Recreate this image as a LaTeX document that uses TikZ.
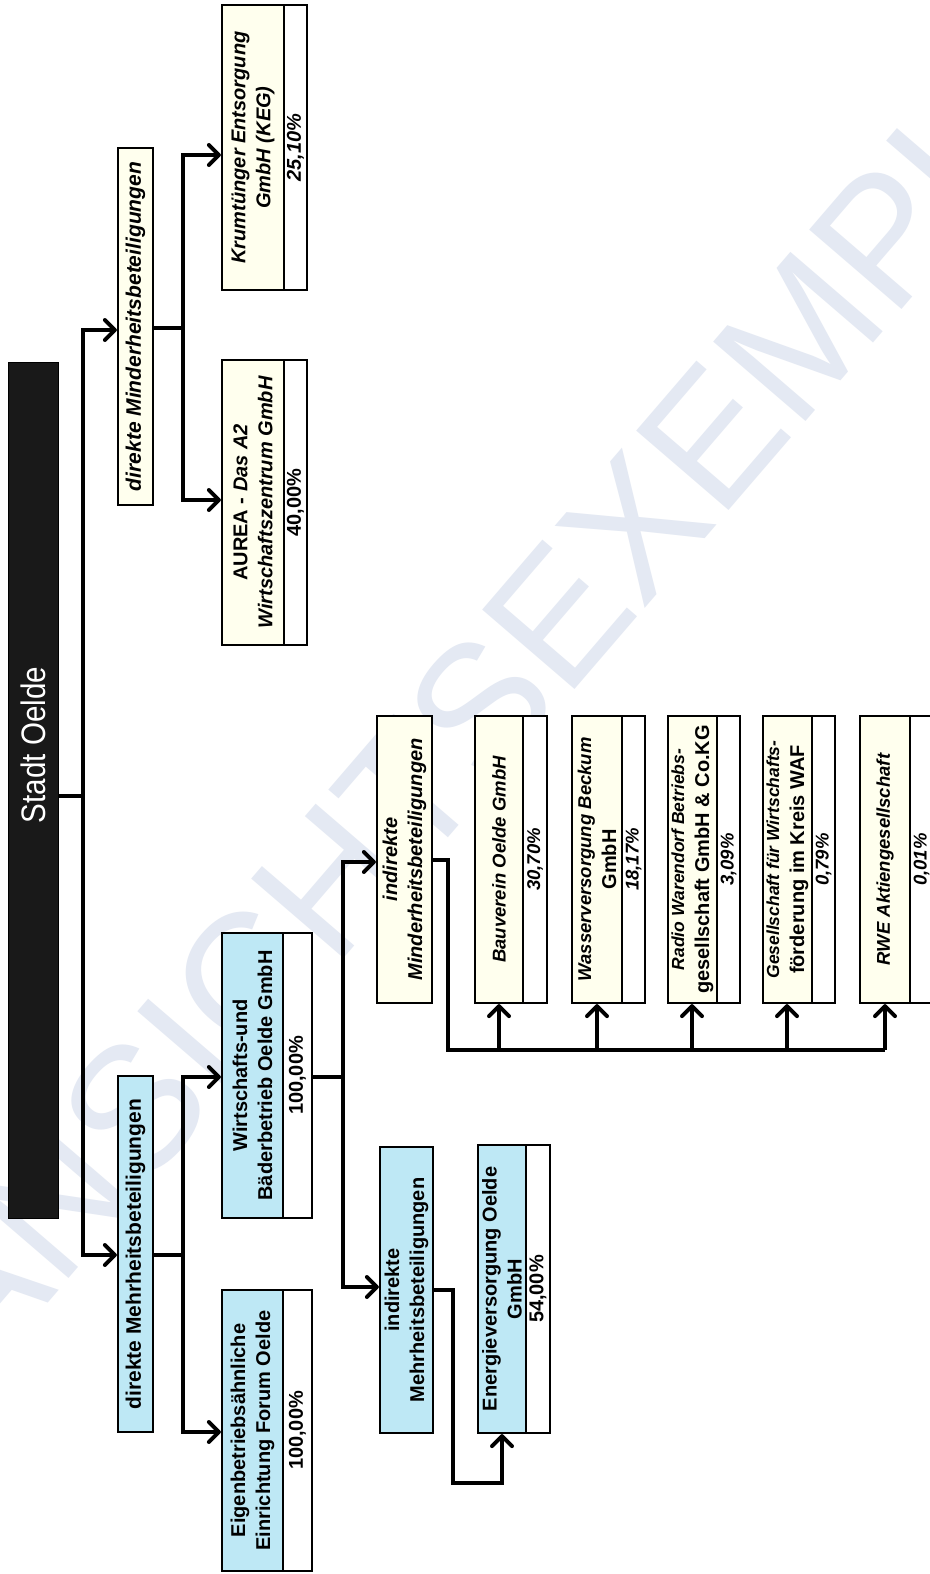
\documentclass[tikz,border=0pt]{standalone}
\usepackage{fontspec}
\setmainfont{Liberation Sans}
\usetikzlibrary{arrows.meta,fit}
\definecolor{boxblue}{RGB}{190,232,245}
\definecolor{cream}{RGB}{255,255,238}
\definecolor{wmark}{RGB}{228,233,243}
\newcommand{\orgbox}[9]{%
  \fill[#7] (#2,#3) rectangle (#6,#5);
  \fill[white] (#6,#3) rectangle (#4,#5);
  \node[boxframe, fit={(#2,#3)(#4,#5)}] (#1) {};
  \draw[boxline] (#6,#3) -- (#6,#5);
  \node[boxtext] (#1-t) at ({(#2+#6)/2},{(#3+#5)/2}) {#8};
  \node[boxtext] (#1-p) at ({(#6+#4)/2},{(#3+#5)/2}) {#9};
}
\newcommand{\smallit}{\bfseries\itshape\fontsize{18.5}{21}\selectfont}
\newcommand{\tinyit}{\bfseries\itshape\fontsize{17.5}{20}\selectfont}
\begin{document}
\begin{tikzpicture}[x=1pt,y=-1pt,
  conn/.style={line width=4.2pt},
  arr/.style={conn,-{Straight Barb[length=10pt,width=20pt,line width=4pt,round]}},
  boxframe/.style={draw, line width=2.2pt, inner sep=0pt},
  boxline/.style={line width=2.2pt},
  boxtext/.style={rotate=90, align=center, inner sep=0pt, font=\bfseries\fontsize{20}{25}\selectfont},
  cattext/.style={boxtext, font=\bfseries\fontsize{21}{25}\selectfont}]
\useasboundingbox (0,0) rectangle (929,1574);
\fill[white] (0,0) rectangle (929,1574);
% watermark
\node[rotate=49.3, text=wmark, inner sep=0pt, font=\fontsize{177}{177}\selectfont] (wm) at (542,635) {ANSICHTSEXEMPLAR};

% root
\node[fill=black!90, draw=black, inner sep=0pt, fit={(8,362)(58,1218)}] (stadt) {};
\node[rotate=90, text=white, inner sep=0pt] (stadt-t) at (33,745) {\scalebox{0.87}[1]{\fontsize{34}{40}\selectfont Stadt Oelde}};

% category boxes
\node[boxframe, fill=cream, fit={(118,148)(153,505)}] (dmin) {};
\node[cattext] (dmin-t) at (dmin.center) {\itshape direkte Minderheitsbeteiligungen};
\node[boxframe, fill=boxblue, fit={(118,1076)(153,1432)}] (dmehr) {};
\node[cattext] (dmehr-t) at (dmehr.center) {direkte Mehrheitsbeteiligungen};
\node[boxframe, fill=cream, fit={(377,716)(432,1003)}] (imin) {};
\node[boxtext] (imin-t) at (imin.center) {\itshape indirekte\\ \itshape Minderheitsbeteiligungen};
\node[boxframe, fill=boxblue, fit={(380,1147)(433,1433)}] (imehr) {};
\node[boxtext] (imehr-t) at (imehr.center) {indirekte\\Mehrheitsbeteiligungen};

% company boxes
\orgbox{krum}{222}{5}{307}{290}{284}{cream}{\itshape Krumtünger Entsorgung\\ \itshape GmbH (KEG)}{\itshape 25,10\%}
\orgbox{aurea}{222}{360}{307}{645}{284}{cream}{AUREA - \textit{Das A2}\\ \itshape Wirtschaftszentrum GmbH}{40,00\%}
\orgbox{wirt}{222}{933}{312}{1218}{283}{boxblue}{Wirtschafts-und\\Bäderbetrieb Oelde GmbH}{100,00\%}
\orgbox{eigen}{222}{1290}{312}{1571}{283}{boxblue}{Eigenbetriebsähnliche\\Einrichtung Forum Oelde}{100,00\%}
\orgbox{energie}{478}{1145}{550}{1433}{526}{boxblue}{Energieversorgung Oelde\\GmbH}{54,00\%}
\orgbox{bau}{475}{716}{547}{1003}{523}{cream}{\smallit Bauverein Oelde GmbH}{\smallit 30,70\%}
\orgbox{wasser}{572}{716}{645}{1003}{622}{cream}{\smallit Wasserversorgung Beckum\\GmbH}{\smallit 18,17\%}
\orgbox{radio}{668}{716}{740}{1003}{717}{cream}{\tinyit Radio Warendorf Betriebs-\\gesellschaft GmbH \& Co.KG}{\smallit 3,09\%}
\orgbox{gesell}{763}{716}{835}{1003}{812}{cream}{\tinyit Gesellschaft für Wirtschafts-\\förderung im Kreis WAF}{\smallit 0,79\%}
\orgbox{rwe}{860}{716}{933}{1003}{910}{cream}{\smallit RWE Aktiengesellschaft}{\smallit 0,01\%}

% main trunk
\coordinate (mt) at (83,330);
\coordinate (mm) at (83,796);
\coordinate (mb) at (83,1255);
\draw[conn] (stadt.east |- mm) -- (mm);
\draw[arr] (mm) -- (mt) -- (dmin.west |- mt);
\draw[arr] (mm) -- (mb) -- (dmehr.west |- mb);

% direkte Minderheitsbeteiligungen
\coordinate (b1t) at (183,155);
\coordinate (b1m) at (183,328);
\coordinate (b1b) at (183,500);
\draw[conn] (dmin.east |- b1m) -- (b1m);
\draw[arr] (b1m) -- (b1t) -- (krum.west |- b1t);
\draw[arr] (b1m) -- (b1b) -- (aurea.west |- b1b);

% direkte Mehrheitsbeteiligungen
\coordinate (b2t) at (183,1077);
\coordinate (b2m) at (183,1255);
\coordinate (b2b) at (183,1432);
\draw[conn] (dmehr.east |- b2m) -- (b2m);
\draw[arr] (b2m) -- (b2t) -- (wirt.west |- b2t);
\draw[arr] (b2m) -- (b2b) -- (eigen.west |- b2b);

% Wirtschafts- und Baederbetrieb
\coordinate (b3t) at (343,862);
\coordinate (b3m) at (343,1077);
\coordinate (b3b) at (343,1287);
\draw[conn] (wirt.east |- b3m) -- (b3m);
\draw[arr] (b3m) -- (b3t) -- (imin.west |- b3t);
\draw[arr] (b3m) -- (b3b) -- (imehr.west |- b3b);

% indirekte Mehrheitsbeteiligungen
\coordinate (c1) at (453,1290);
\coordinate (c2) at (453,1483);
\coordinate (c3) at (502,1483);
\draw[arr] (imehr.east |- c1) -- (c1) -- (c2) -- (c3) -- (c3 |- energie.south);

% indirekte Minderheitsbeteiligungen
\coordinate (d1) at (448,860);
\coordinate (d2) at (448,1050);
\coordinate (a1) at (499,1050);
\coordinate (a2) at (597,1050);
\coordinate (a3) at (692,1050);
\coordinate (a4) at (787,1050);
\coordinate (a5) at (885,1050);
\draw[conn] (imin.east |- d1) -- (d1) -- (d2) -- (a5);
\draw[arr] (a1) -- (a1 |- bau.south);
\draw[arr] (a2) -- (a2 |- wasser.south);
\draw[arr] (a3) -- (a3 |- radio.south);
\draw[arr] (a4) -- (a4 |- gesell.south);
\draw[arr] (a5) -- (a5 |- rwe.south);
\end{tikzpicture}
\end{document}
